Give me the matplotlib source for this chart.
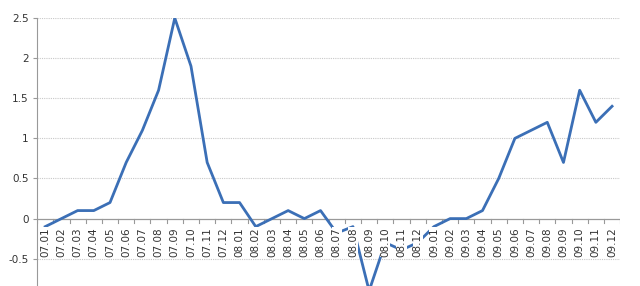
import matplotlib.pyplot as plt

months = [
    "07.01", "07.02", "07.03", "07.04", "07.05", "07.06", "07.07", "07.08", "07.09",
    "07.10", "07.11", "07.12", "08.01", "08.02", "08.03", "08.04", "08.05", "08.06",
    "08.07", "08.08", "08.09", "08.10", "08.11", "08.12", "09.01", "09.02", "09.03",
    "09.04", "09.05", "09.06", "09.07", "09.08", "09.09", "09.10", "09.11", "09.12",
]
values = [
    -0.1, 0.0, 0.1, 0.1, 0.2, 0.7, 1.1, 1.6, 2.5,
    1.9, 0.7, 0.2, 0.2, -0.1, 0.0, 0.1, 0.0, 0.1,
    -0.18, -0.1, -0.9, -0.3, -0.39, -0.3, -0.1, 0.0, 0.0,
    0.1, 0.5, 1.0, 1.1, 1.2, 0.7, 1.6, 1.2, 1.4,
]
yticks = [-0.5, 0, 0.5, 1, 1.5, 2, 2.5]

fig = plt.figure(figsize=(6.4, 2.86), dpi=100)
ax = fig.add_axes([0.058, 0.0, 0.911, 0.937])

x = list(range(len(months)))
ax.plot(x, values, color="#3b6fb6", linewidth=2.0, zorder=2)

ax.set_xlim(-0.5, len(months) - 0.5)
ax.set_ylim(-0.84, 2.5)

# grid
ax.set_yticks(yticks)
ax.set_yticklabels(["-0.5", "0", "0.5", "1", "1.5", "2", "2.5"])
for yv in yticks:
    if yv != 0:
        ax.axhline(yv, color="#c8c8c8", linewidth=0.8, linestyle=(0, (1, 1)), zorder=0)

# zero axis with category-boundary ticks
ax.axhline(0, color="#999999", linewidth=0.9, zorder=1)
for b in range(len(months) + 1):
    ax.plot([b - 0.5, b - 0.5], [0, -0.05], color="#999999", linewidth=0.8, zorder=1)

# x labels sit on top of the line with white background
for xi, m in zip(x, months):
    ax.text(xi, -0.11, m, rotation=90, ha="center", va="top", fontsize=7.5,
            color="#333333", zorder=3,
            bbox=dict(facecolor="white", edgecolor="none", pad=0.1))

ax.set_xticks([])
for s in ["top", "right", "bottom"]:
    ax.spines[s].set_visible(False)
ax.spines["left"].set_color("#999999")
ax.tick_params(axis="y", length=3, color="#999999", labelsize=7.5, labelcolor="#333333", pad=3)

fig.savefig("out.png", dpi=100)
